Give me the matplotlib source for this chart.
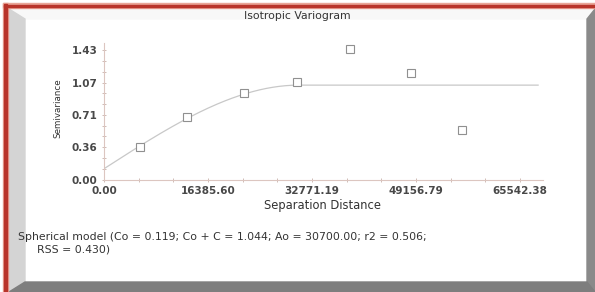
import numpy as np
import matplotlib
matplotlib.use("Agg")
import matplotlib.pyplot as plt
from matplotlib.patches import Rectangle, Polygon

# lag classes
lag_distance = [5600, 13030, 22030, 30350, 38760, 48370, 56360]
semivariance = [0.360, 0.695, 0.958, 1.082, 1.444, 1.175, 0.548]

# spherical model parameters from the caption
nugget = 0.119
sill = 1.044
model_range = 30700.0
model_end = 68400

x_ticks = [0.0, 16385.60, 32771.19, 49156.79, 65542.38]
x_tick_labels = ["0.00", "16385.60", "32771.19", "49156.79", "65542.38"]
y_ticks = [0.0, 0.3575, 0.715, 1.0725, 1.43]
y_tick_labels = ["0.00", "0.36", "0.71", "1.07", "1.43"]

caption_1 = "Spherical model (Co = 0.119; Co + C = 1.044; Ao = 30700.00; r2 = 0.506;"
caption_2 = "RSS = 0.430)"

W, H = 595, 292
fig = plt.figure(figsize=(W / 100, H / 100), dpi=100)
plt.rcParams['font.family'] = ['DejaVu Sans']

def fx(px):
    return px / W

def fy(py):
    return 1 - py / H

# frame: red border, light left bevel, dark right/bottom bevel
def add_patch(p, z):
    p.set_transform(fig.transFigure)
    p.set_zorder(z)
    fig.patches.append(p)

add_patch(Rectangle((0, 0), 1, 1, color="white"), -5)
add_patch(Polygon([(fx(9), fy(8)), (fx(595), fy(8)), (fx(587), fy(19)), (fx(25), fy(19))],
                  closed=True, color="#f8f8f8"), -4)
add_patch(Polygon([(fx(9), fy(9)), (fx(25), fy(19)), (fx(25), fy(282)), (fx(9), fy(292))],
                  closed=True, color="#d4d4d4"), -4)
add_patch(Polygon([(fx(595), fy(9)), (fx(595), fy(292)), (fx(587), fy(282)), (fx(587), fy(19))],
                  closed=True, color="#8a8a8a"), -4)
add_patch(Polygon([(fx(9), fy(292)), (fx(25), fy(282)), (fx(587), fy(282)), (fx(595), fy(292))],
                  closed=True, color="#7e7e7e"), -4)
add_patch(Rectangle((fx(3), fy(8)), fx(595), 4.5 / H, color="#e9a597"), -3)
add_patch(Rectangle((fx(3), 0), 4.5 / W, fy(3), color="#e9a597"), -3)
add_patch(Rectangle((fx(4), fy(7)), fx(595), 2.5 / H, color="#b8342a"), -2)
add_patch(Rectangle((fx(4), 0), 2.5 / W, fy(4), color="#b8342a"), -2)

ax = fig.add_axes([fx(104), fy(179.5), fx(543) - fx(104), fy(43) - fy(179.5)])
ax.set_facecolor("none")
ax.set_zorder(5)

# model curve
h = np.linspace(0, model_end, 400)
r = np.minimum(h / model_range, 1.0)
gamma = nugget + (sill - nugget) * (1.5 * r - 0.5 * r ** 3)
ax.plot(h, gamma, color="#c8c8c8", lw=0.9, zorder=2)

ax.plot(lag_distance, semivariance, ls="none", marker="s", ms=6, mfc="white",
        mec="#909090", mew=0.8, zorder=3)

ax.set_xlim(0, 69170)
ax.set_ylim(0, 1.51)
ax.set_xticks(x_ticks)
ax.set_xticklabels(x_tick_labels)
ax.set_xticks(np.arange(0, 69000, 16385.595 / 3), minor=True)
ax.set_yticks(y_ticks)
ax.set_yticklabels(y_tick_labels)
ax.set_yticks(np.arange(0, 1.5, 1.43 / 12), minor=True)

for s in ["top", "right"]:
    ax.spines[s].set_visible(False)
for s in ["left", "bottom"]:
    ax.spines[s].set_color("#dcc6c0")
    ax.spines[s].set_linewidth(0.8)

ax.tick_params(which="both", direction="inout", color="#d0bcb6", width=0.7)
ax.tick_params(which="major", length=3)
ax.tick_params(which="minor", length=2.5)
ax.tick_params(axis="x", pad=3, labelsize=7.5, labelcolor="#484848")
ax.tick_params(axis="y", pad=3, labelsize=7.5, labelcolor="#484848")
for lab in ax.get_xticklabels() + ax.get_yticklabels():
    lab.set_fontweight("bold")

fig.text(fx(297), fy(16), "Isotropic Variogram", ha="center", va="center", fontsize=7.8, color="#333333")
fig.text(fx(322), fy(205), "Separation Distance", ha="center", va="center", fontsize=8.3, color="#333333")
fig.text(fx(58), fy(108), "Semivariance", ha="center", va="center", rotation=90, fontsize=6.3,
         color="#333333")
fig.text(fx(18), fy(237.5), caption_1, ha="left", va="center", fontsize=7.8, color="#333333")
fig.text(fx(37), fy(249.5), caption_2, ha="left", va="center", fontsize=7.8, color="#333333")

fig.savefig("out.png", dpi=100)
